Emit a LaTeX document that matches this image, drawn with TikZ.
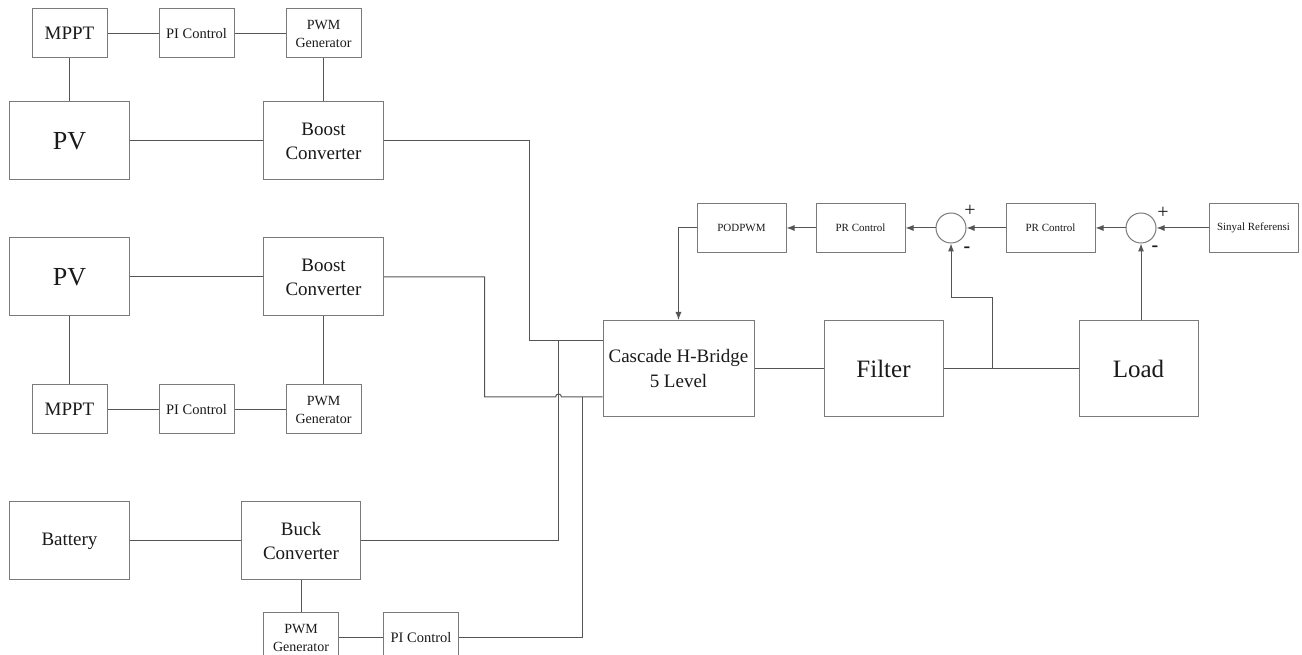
\documentclass[tikz,border=0pt]{standalone}
\usepackage{fontspec}
\setmainfont{Liberation Serif}
\usepackage{tikz}
\usetikzlibrary{positioning,arrows.meta,calc}
\definecolor{BDLine}{HTML}{7A7A7A}
\definecolor{BDWire}{HTML}{555555}
\definecolor{BDText}{HTML}{1A1A1A}

\begin{document}
\begin{tikzpicture}[
  x=1pt, y=1pt,
  blk/.style={draw=BDLine, line width=1pt, align=center, inner sep=1pt, text=BDText},
  small/.style={blk, minimum width=75pt, minimum height=49pt, font=\fontsize{14.5}{17}\selectfont},
  pwmbox/.style={blk, minimum width=75pt, minimum height=49pt, font=\fontsize{14}{18}\selectfont},
  big/.style={blk, minimum width=120pt, minimum height=78pt, font=\fontsize{19}{24}\selectfont},
  pvbox/.style={big, font=\fontsize{26}{28}\selectfont},
  stage/.style={blk, minimum width=119pt, minimum height=96pt, font=\fontsize{25}{28}\selectfont},
  ctrl/.style={blk, minimum width=89pt, minimum height=49pt, font=\fontsize{11}{13}\selectfont},
  sumnode/.style={draw=BDLine, line width=1pt, circle, minimum size=30pt, inner sep=0pt},
  sign/.style={inner sep=0pt, text=BDText},
  wire/.style={draw=BDWire, line width=1pt},
  arrow/.style={wire, -{Latex[length=8pt,width=6pt]}}
]
\useasboundingbox[fill=white] (0,0) rectangle (1302,655);

% PV string 1
\node[small, font=\fontsize{19}{21}\selectfont] (mppt1) at (69.5,621.5) {MPPT};
\node[small, right=51pt of mppt1] (pi1) {PI Control};
\node[pwmbox, right=51pt of pi1] (pwm1) {PWM\\Generator};
\node[pvbox, below=43pt of mppt1] (pv1) {PV};
\node[big, right=133pt of pv1] (boost1) {Boost\\Converter};

% PV string 2
\node[pvbox, below=57pt of pv1] (pv2) {PV};
\node[big, right=133pt of pv2] (boost2) {Boost\\Converter};
\node[small, font=\fontsize{19}{21}\selectfont, below=68pt of pv2] (mppt2) {MPPT};
\node[small, right=51pt of mppt2] (pi2) {PI Control};
\node[pwmbox, right=51pt of pi2] (pwm2) {PWM\\Generator};

% battery
\node[big, below=67pt of mppt2] (bat) {Battery};
\node[big, minimum width=119pt, right=111pt of bat] (buck) {Buck\\Converter};
\node[pwmbox, below=32pt of buck] (pwm3) {PWM\\Generator};
\node[small, right=44pt of pwm3] (pi3) {PI Control};

% inverter and load
\node[stage, minimum width=151pt, font=\fontsize{19}{25}\selectfont] (chb) at (678.5,286.5) {Cascade H-Bridge\\5 Level};
\node[stage, right=69pt of chb] (filter) {Filter};
\node[stage, right=135pt of filter] (load) {Load};

% control loop
\node[ctrl] (podpwm) at (741.5,427) {PODPWM};
\node[ctrl, right=29pt of podpwm] (pr1) {PR Control};
\node[sumnode, right=30pt of pr1] (sum1) {};
\node[ctrl, right=39pt of sum1] (pr2) {PR Control};
\node[sumnode, right=30pt of pr2] (sum2) {};
\node[ctrl, right=52pt of sum2] (ref) {Sinyal Referensi};
\node[sign, font=\fontsize{20}{20}\selectfont] (plus1) at ($(sum1)+(19,17)$) {+};
\node[sign, font=\fontsize{20}{20}\selectfont\bfseries] (minus1) at ($(sum1)+(16,-22)$) {-};
\node[sign, font=\fontsize{20}{20}\selectfont] (plus2) at ($(sum2)+(22,15)$) {+};
\node[sign, font=\fontsize{20}{20}\selectfont\bfseries] (minus2) at ($(sum2)+(14,-21)$) {-};

\coordinate (inA) at ($(chb.north west)+(0,-21)$);
\coordinate (inB) at ($(chb.south west)+(0,20)$);
\coordinate (tap) at ($(filter.east)+(49,0)$);

\draw[wire] (mppt1) -- (pi1) -- (pwm1);
\draw[wire] (mppt1) -- (pv1);
\draw[wire] (pwm1) -- (boost1);
\draw[wire] (pv1) -- (boost1);
\draw[wire] (pv2) -- (boost2);
\draw[wire] (pv2) -- (mppt2);
\draw[wire] (boost2) -- (pwm2);
\draw[wire] (mppt2) -- (pi2) -- (pwm2);
\draw[wire] (bat) -- (buck);
\draw[wire] (buck) -- (pwm3);
\draw[wire] (pwm3) -- (pi3);

\draw[wire] (boost1.east) -| ($(inA)+(-73,0)$) -- (inA);
\draw[wire] (boost2.east) -| ($(inB)+(-118,0)$) -- ($(inB)+(-47,0)$)
  arc (180:0:3pt) -- (inB);
\draw[wire] (buck.east) -| ($(inA)+(-44,0)$);
\draw[wire] (pi3.east) -| ($(inB)+(-20,0)$);

\draw[wire] (chb) -- (filter);
\draw[wire] (filter) -- (load);
\draw[arrow] (tap) |- ($(sum1.south)+(0,-54)$) -- (sum1.south);
\draw[arrow] (load.north -| sum2.south) -- (sum2.south);
\draw[arrow] (ref) -- (sum2);
\draw[arrow] (sum2) -- (pr2);
\draw[arrow] (pr2) -- (sum1);
\draw[arrow] (sum1) -- (pr1);
\draw[arrow] (pr1) -- (podpwm);
\draw[arrow] (podpwm.west) -| (chb.north);
\end{tikzpicture}
\end{document}
